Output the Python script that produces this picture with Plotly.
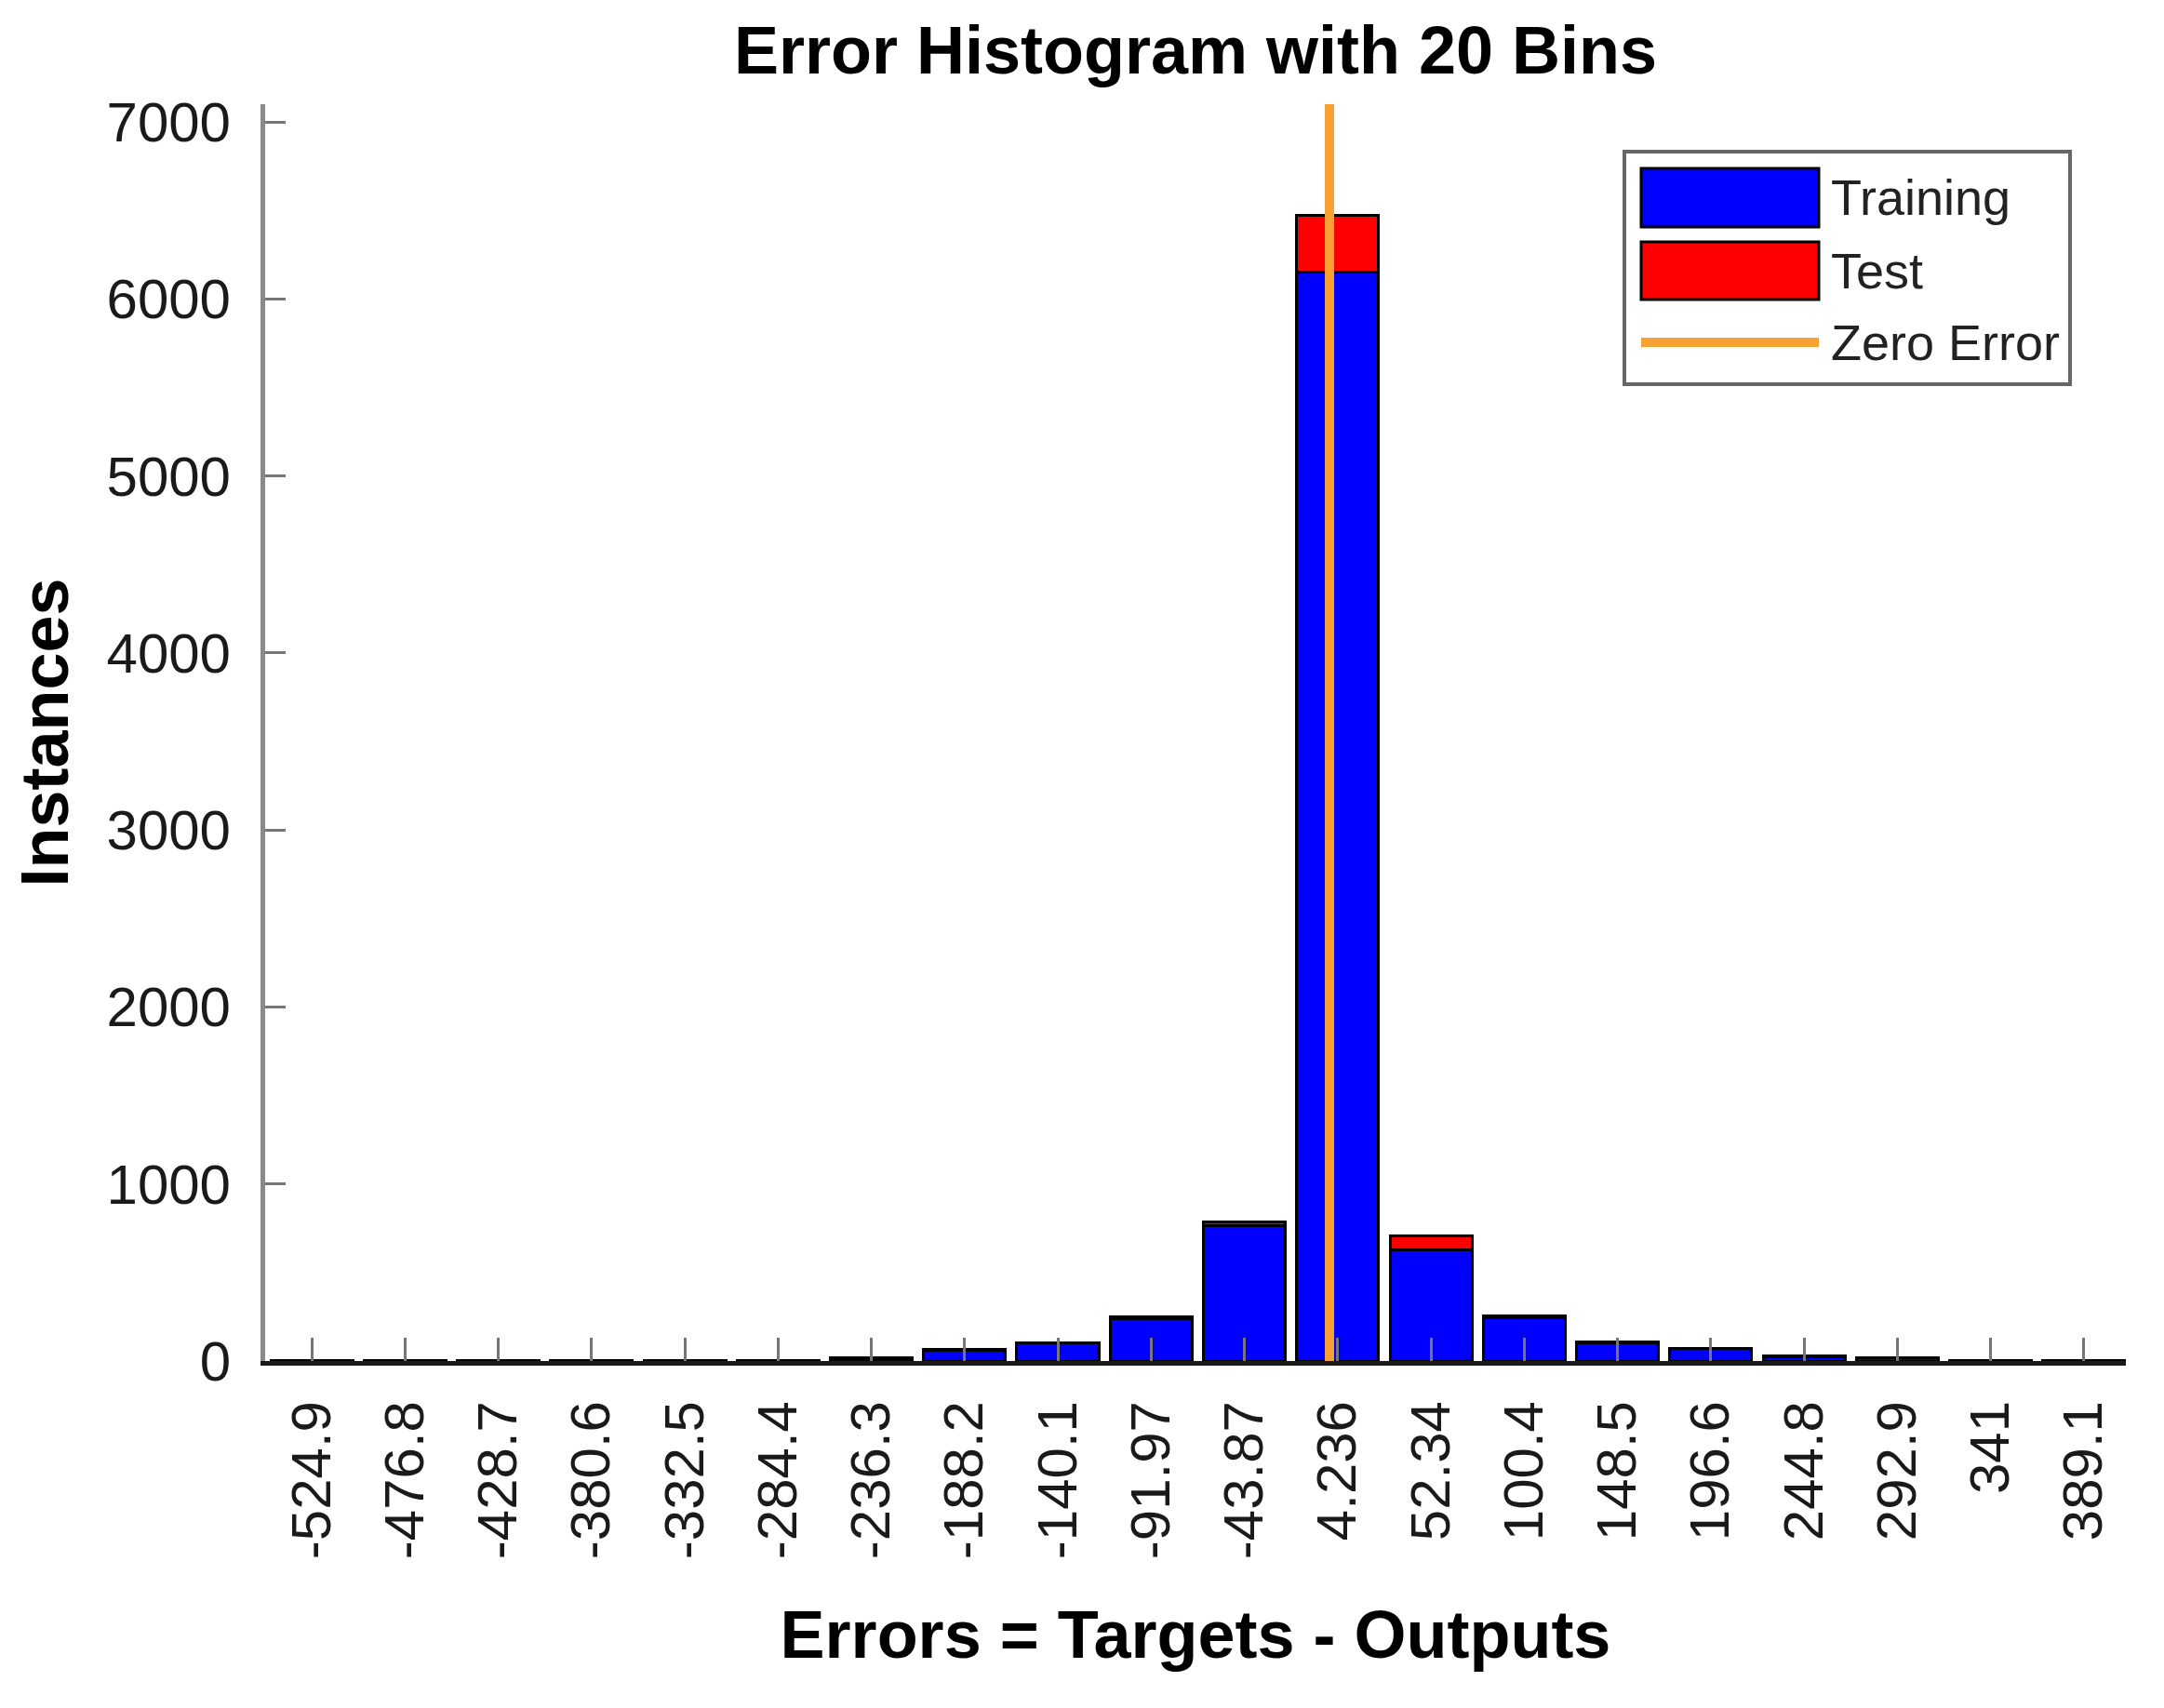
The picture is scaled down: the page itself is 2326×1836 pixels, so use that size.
import plotly.graph_objects as go

# bin centres as printed under the bars
bin_labels = ["-524.9", "-476.8", "-428.7", "-380.6", "-332.5", "-284.4", "-236.3",
              "-188.2", "-140.1", "-91.97", "-43.87", "4.236", "52.34", "100.4",
              "148.5", "196.6", "244.8", "292.9", "341", "389.1"]
bin_centers = [float(s) for s in bin_labels]

training = [3, 2, 2, 3, 2, 4, 15, 60, 100, 240, 765, 6150, 630, 245, 105, 70, 25, 20, 4, 3]
test = [0, 0, 0, 0, 0, 0, 2, 5, 5, 10, 20, 320, 75, 8, 5, 3, 2, 1, 0, 0]

zero_error = 0
y_ticks = [0, 1000, 2000, 3000, 4000, 5000, 6000, 7000]
y_max = 7100

FONT = "Liberation Sans, Arial, Helvetica, sans-serif"

bin_w = bin_centers[1] - bin_centers[0]

fig = go.Figure()
fig.add_trace(go.Bar(x=bin_centers, y=training, name="Training",
                     marker=dict(color="#0000ff", line=dict(color="#000000", width=3))))
fig.add_trace(go.Bar(x=bin_centers, y=test, name="Test",
                     marker=dict(color="#ff0000", line=dict(color="#000000", width=3))))
fig.add_trace(go.Scatter(x=[zero_error, zero_error], y=[0, y_max], mode="lines",
                         name="Zero Error", line=dict(color="#f7a033", width=10)))

fig.update_layout(
    width=2326, height=1836,
    barmode="stack", bargap=0.12,
    showlegend=False,
    plot_bgcolor="white", paper_bgcolor="white",
    margin=dict(l=277, r=49, t=104, b=381),
    font=dict(family=FONT, size=60, color="#1a1a1a"),
    title=dict(text="<b>Error Histogram with 20 Bins</b>", x=0.5, xref="paper",
               y=1 - 46 / 1836, yref="container", yanchor="middle",
               font=dict(size=72, color="#000000")),
)

fig.update_xaxes(
    range=[bin_centers[0] - 0.5 * bin_w, bin_centers[-1] + 0.45 * bin_w],
    tickmode="array", tickvals=bin_centers, ticktext=bin_labels, tickangle=-90,
    ticks="inside", ticklen=25, tickwidth=3, tickcolor="#777777",
    ticklabelstandoff=14,
    showline=True, linecolor="#1a1a1a", linewidth=5,
    showgrid=False, zeroline=False,
    title=dict(text="<b>Errors = Targets - Outputs</b>", standoff=58,
               font=dict(size=72, color="#000000")),
)
fig.update_yaxes(
    range=[0, y_max], tickvals=y_ticks,
    ticks="inside", ticklen=22, tickwidth=3, tickcolor="#777777",
    ticklabelstandoff=20,
    showline=True, linecolor="#8a8a8a", linewidth=5,
    showgrid=False, zeroline=False,
    title=dict(text="<b>Instances</b>", standoff=40,
               font=dict(size=72, color="#000000")),
)

# MATLAB-style legend box with wide swatches (pixel positions -> paper coords)
PL, PB, PW, PH = 277, 1455, 2000, 1351


def pxx(p):
    return (p - PL) / PW


def pxy(p):
    return (PB - p) / PH


sw_x0, sw_x1, txt_x = 1756, 1947, 1958
fig.add_shape(type="rect", xref="paper", yref="paper", layer="above",
              x0=pxx(1738), x1=pxx(2217), y0=pxy(405), y1=pxy(155),
              line=dict(color="#666666", width=4), fillcolor="white")
items = [("Training", "#0000ff", 173, 236), ("Test", "#ff0000", 252, 314)]
for name, col, ya, yb in items:
    fig.add_shape(type="rect", xref="paper", yref="paper", layer="above",
                  x0=pxx(sw_x0), x1=pxx(sw_x1), y0=pxy(yb), y1=pxy(ya),
                  line=dict(color="#000000", width=3), fillcolor=col)
    fig.add_annotation(text=name, xref="paper", yref="paper",
                       x=pxx(txt_x), y=pxy((ya + yb) / 2),
                       xanchor="left", yanchor="middle", showarrow=False,
                       font=dict(size=54, color="#222222"))
fig.add_shape(type="line", xref="paper", yref="paper", layer="above",
              x0=pxx(sw_x0), x1=pxx(sw_x1), y0=pxy(360), y1=pxy(360),
              line=dict(color="#f7a033", width=10))
fig.add_annotation(text="Zero Error", xref="paper", yref="paper",
                   x=pxx(txt_x), y=pxy(360),
                   xanchor="left", yanchor="middle", showarrow=False,
                   font=dict(size=54, color="#222222"))

fig.write_html("out.html")
